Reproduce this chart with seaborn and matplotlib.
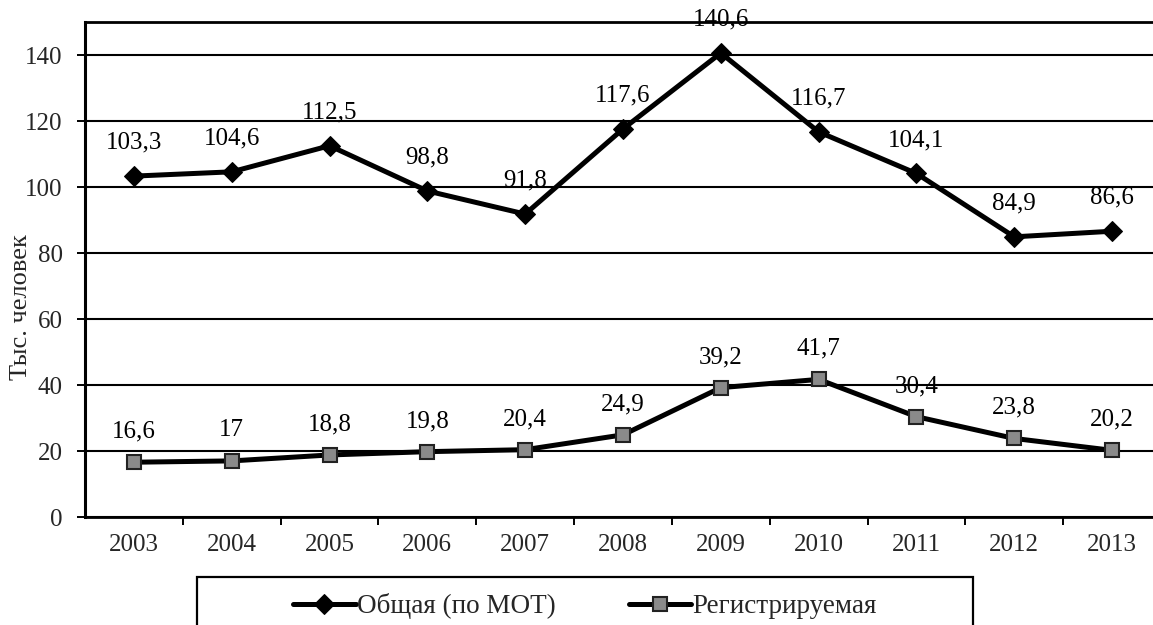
import matplotlib
matplotlib.use("Agg")
import matplotlib.pyplot as plt
import matplotlib.patches as mpatches
import seaborn as sns
import pandas as pd

years = ["2003", "2004", "2005", "2006", "2007", "2008", "2009", "2010", "2011", "2012", "2013"]
total = [103.3, 104.6, 112.5, 98.8, 91.8, 117.6, 140.6, 116.7, 104.1, 84.9, 86.6]
registered = [16.6, 17, 18.8, 19.8, 20.4, 24.9, 39.2, 41.7, 30.4, 23.8, 20.2]
total_labels = ["103,3", "104,6", "112,5", "98,8", "91,8", "117,6", "140,6", "116,7", "104,1", "84,9", "86,6"]
reg_labels = ["16,6", "17", "18,8", "19,8", "20,4", "24,9", "39,2", "41,7", "30,4", "23,8", "20,2"]
series_names = ["Общая (по МОТ)", "Регистрируемая"]
y_ticks = [0, 20, 40, 60, 80, 100, 120, 140]
y_label = "Тыс. человек"

sns.set_theme(style="white")
plt.rcParams["font.family"] = ["Liberation Serif", "DejaVu Serif"]

W, H = 1153, 625
fig = plt.figure(figsize=(W / 100, H / 100), dpi=100)
ax = fig.add_axes([85 / W, 1 - 517 / H, 1076 / W, 495 / H])

pos = list(range(len(years)))
df1 = pd.DataFrame({"x": pos, "y": total})
df2 = pd.DataFrame({"x": pos, "y": registered})

sns.lineplot(data=df1, x="x", y="y", ax=ax, color="black", linewidth=3.6,
             marker="D", markersize=10, markerfacecolor="black", markeredgecolor="black",
             label=series_names[0])
sns.lineplot(data=df2, x="x", y="y", ax=ax, color="black", linewidth=3.6,
             marker="s", markersize=10, markerfacecolor="#8a8a8a", markeredgecolor="#222222",
             markeredgewidth=1.5, label=series_names[1])

for i, (v, t) in enumerate(zip(total, total_labels)):
    ax.annotate(t, (i, v), xytext=(0, 24), textcoords="offset points",
                ha="center", va="center", fontsize=18, color="black")
for i, (v, t) in enumerate(zip(registered, reg_labels)):
    ax.annotate(t, (i, v), xytext=(0, 22), textcoords="offset points",
                ha="center", va="center", fontsize=18, color="black")

ax.set_xlim(-0.5, len(years) - 0.5)
ax.set_ylim(0, 150)
ax.set_yticks(y_ticks)
ax.set_yticklabels([str(v) for v in y_ticks], fontsize=18)
ax.set_xticks(pos)
ax.set_xticklabels(years, fontsize=18)
ax.set_xticks([p + 0.5 for p in pos[:-1]], minor=True)
ax.tick_params(axis="x", which="major", length=0, pad=12)
ax.tick_params(axis="x", which="minor", length=6, width=1.4, color="black", direction="out", bottom=True)
ax.tick_params(axis="y", which="major", length=6, width=1.4, color="black", direction="out", left=True, pad=10)
ax.grid(axis="y", color="black", linewidth=1.5)
ax.grid(axis="x", visible=False)
ax.set_xlabel("")
ax.set_ylabel(y_label, fontsize=19)
ax.yaxis.label.set_va("center")
ax.yaxis.set_label_coords(-0.0595, 0.424)

for s in ["left", "bottom", "top"]:
    ax.spines[s].set_visible(True)
    ax.spines[s].set_color("black")
ax.spines["left"].set_linewidth(2.2)
ax.spines["bottom"].set_linewidth(2.0)
ax.spines["top"].set_linewidth(2.0)
ax.spines["right"].set_visible(False)

ax.get_legend().remove()
handles, labels = ax.get_legend_handles_labels()
leg = fig.legend(handles, labels, loc="center",
                 bbox_to_anchor=(585 / W, 1 - 606 / H),
                 ncol=2, fontsize=19.5, frameon=False,
                 borderpad=0, handlelength=2.3, handletextpad=0.05, columnspacing=2.7)
box = mpatches.Rectangle((197 / W, 1 - 640 / H), (973 - 197) / W, (640 - 577) / H,
                         transform=fig.transFigure, fill=False, edgecolor="black",
                         linewidth=1.6, clip_on=False)
fig.patches.append(box)

fig.savefig("out.png", dpi=100)
